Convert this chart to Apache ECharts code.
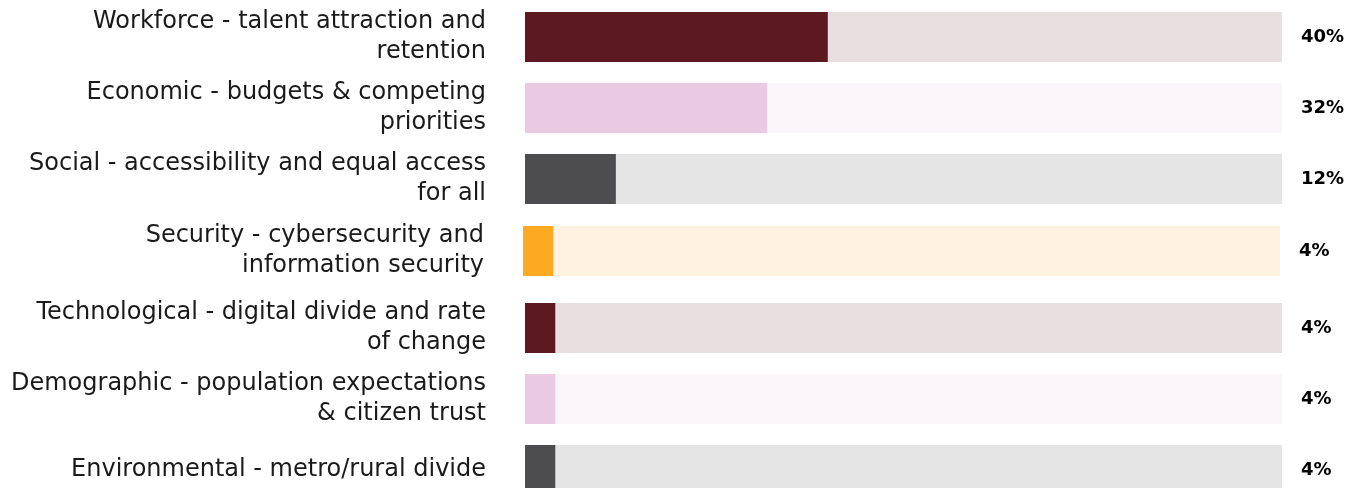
<!DOCTYPE html>
<html>
<head>
<meta charset="utf-8">
<script src="https://cdn.jsdelivr.net/npm/echarts@6/dist/echarts.min.js"></script>
<style>
  html, body { margin: 0; padding: 0; background: #fff; }
  #chart { width: 1361px; height: 488px; }
</style>
</head>
<body>
<div id="chart"></div>
<script>
// data
var categories = [
    'Workforce - talent attraction and\nretention',
    'Economic - budgets & competing\npriorities',
    'Social - accessibility and equal access\nfor all',
    'Security - cybersecurity and\ninformation security',
    'Technological - digital divide and rate\nof change',
    'Demographic - population expectations\n& citizen trust',
    'Environmental - metro/rural divide'
];
var values = [40, 32, 12, 4, 4, 4, 4];
var valueLabels = ['40%', '32%', '12%', '4%', '4%', '4%', '4%'];

// styles
var barColors = ['#5c1921', '#eac9e2', '#4d4d4f', '#fbaa22', '#5c1921', '#eac9e2', '#4d4d4f'];
var bgColors  = ['#e8dfe0', '#fbf6fa', '#e5e5e5', '#fef3e0', '#e8dfe0', '#fbf6fa', '#e5e5e5'];
var rowTops   = [12, 83, 154, 226, 303, 374, 445];
var rowLefts  = [525, 525, 525, 523, 525, 525, 525];

var chart = echarts.init(document.getElementById('chart'));

var grids = [], xAxes = [], yAxes = [], series = [];
categories.forEach(function (name, i) {
    grids.push({
        left: rowLefts[i], top: rowTops[i], width: 757, height: 50,
        outerBoundsMode: 'none'
    });
    xAxes.push({
        gridIndex: i, type: 'value', min: 0, max: 100,
        show: false
    });
    yAxes.push({
        gridIndex: i, type: 'category', data: [name],
        axisLine: { show: false }, axisTick: { show: false },
        axisLabel: {
            margin: 39, align: 'right',
            fontFamily: 'DejaVu Sans', fontSize: 24, lineHeight: 30,
            color: '#1a1a1a'
        }
    });
    yAxes.push({
        gridIndex: i, type: 'category', position: 'right', data: [valueLabels[i]],
        axisLine: { show: false }, axisTick: { show: false },
        axisLabel: {
            margin: 19, align: 'left', padding: [3, 0, 0, 0],
            fontFamily: 'DejaVu Sans', fontWeight: 'bold', fontSize: 18,
            color: '#000'
        }
    });
    series.push({
        type: 'bar',
        xAxisIndex: i, yAxisIndex: i * 2,
        data: [values[i]],
        barWidth: 50,
        itemStyle: { color: barColors[i] },
        showBackground: true,
        backgroundStyle: { color: bgColors[i] },
        silent: true,
        animation: false
    });
});

var option = {
    backgroundColor: '#fff',
    grid: grids,
    xAxis: xAxes,
    yAxis: yAxes,
    series: series
};

chart.setOption(option);
</script>
</body>
</html>
